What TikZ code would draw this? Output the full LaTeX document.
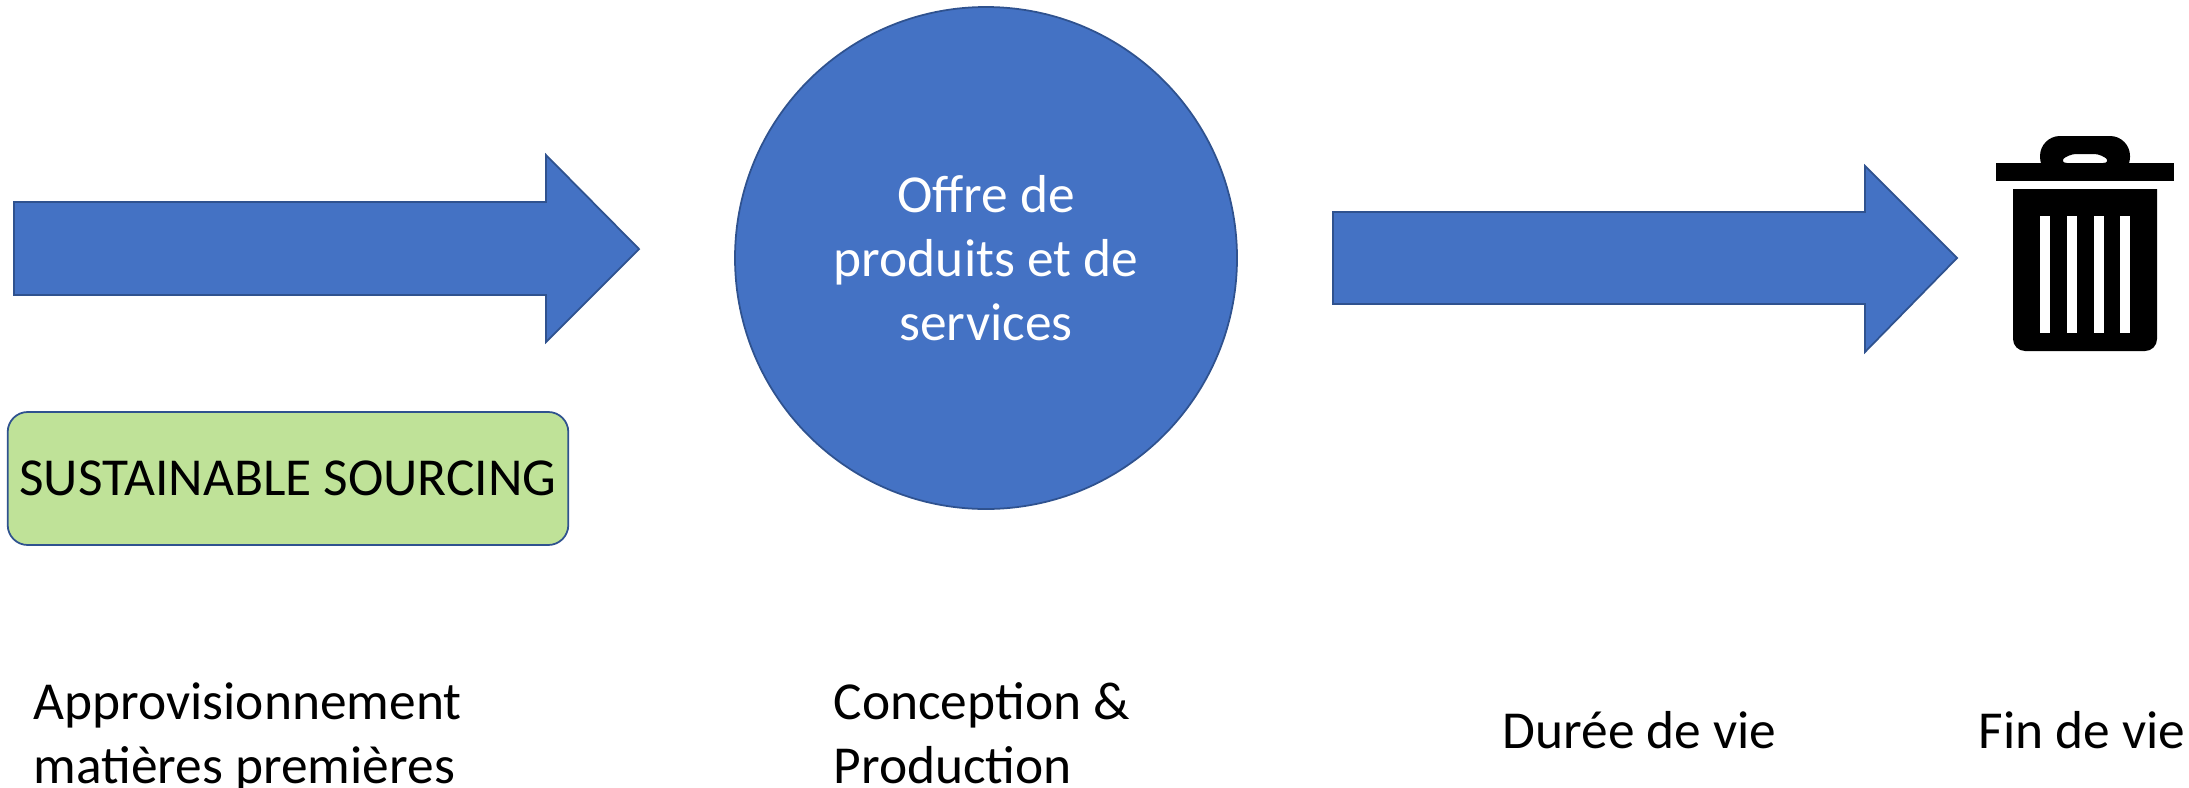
\documentclass[tikz,border=0pt]{standalone}
\usepackage{fontspec}
\setmainfont{Carlito}
\definecolor{shapeblue}{HTML}{4472C4}
\definecolor{edgeblue}{HTML}{2F528F}
\definecolor{sourcegreen}{HTML}{BFE298}

\begin{document}
\begin{tikzpicture}[every node/.style={font=\fontsize{15.2}{16.2}\selectfont},
    blockarrow/.style={draw=edgeblue,fill=shapeblue,line width=.5pt},
    phase/.style={anchor=north west,align=left,inner sep=0pt}]
  \useasboundingbox (0,0) rectangle (21.89,7.87);
  \draw[blockarrow] (0.14,5.85) -- (5.46,5.85) -- (5.46,6.32) -- (6.39,5.38)
  -- (5.46,4.45) -- (5.46,4.92) -- (0.14,4.92) -- cycle;
  \draw[blockarrow] (13.33,5.75) -- (18.65,5.75) -- (18.65,6.21) -- (19.57,5.29)
  -- (18.65,4.35) -- (18.65,4.83) -- (13.33,4.83) -- cycle;
  \node[circle,draw=edgeblue,fill=shapeblue,line width=.5pt,minimum size=5.02cm,
    text=white,align=center] (offer) at (9.86,5.29)
    {Offre de\\[2pt]produits et de\\[2pt]services};
  \node[draw=edgeblue,fill=sourcegreen,line width=.5pt,rounded corners=.2cm,
    minimum width=5.48cm,minimum height=1.33cm] (sourcing) at (2.88,3.085)
    {SUSTAINABLE SOURCING};
  \node[phase] (supply) at (0.33,1.05) {Approvisionnement\\[2pt]matières premières};
  \node[phase] (design) at (8.33,1.05) {Conception \&\\[2pt]Production};
  \node[phase] (life) at (15.02,0.76) {Durée de vie};
  \node[phase] (end) at (19.78,0.76) {Fin de vie};
  % poubelle
  \fill (19.96,6.06) rectangle (21.74,6.24);
  \fill[even odd rule,rounded corners=.2cm] (20.40,6.1) -- (20.40,6.51) -- (21.30,6.51) -- (21.30,6.1) -- cycle
  [sharp corners,rounded corners=.08cm] (20.59,6.24) -- (20.68,6.33) -- (21.02,6.33) -- (21.11,6.24) -- cycle;
  \fill[rounded corners=.12cm] (20.13,5.98) [sharp corners] -- (21.57,5.98)
  [rounded corners=.12cm] -- (21.57,4.36) -- (20.13,4.36) [sharp corners] -- cycle;
  \foreach \x in {20.40,20.67,20.94,21.20}
    \fill[white] (\x,5.71) rectangle ++(0.095,-1.17);
\end{tikzpicture}
\end{document}
